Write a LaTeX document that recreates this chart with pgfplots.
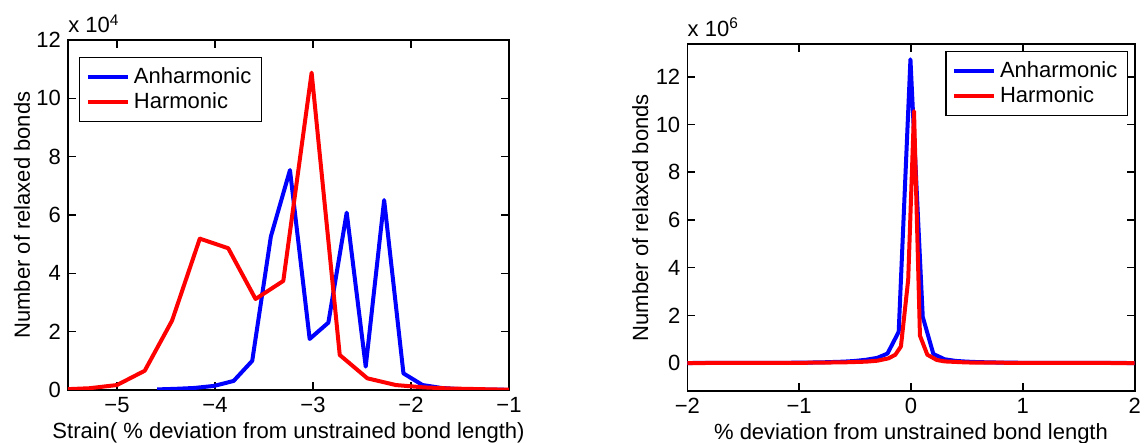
\documentclass[border=0pt]{standalone}
\usepackage{fontspec}
\setmainfont{Liberation Sans}
\usepackage{pgfplots}
\pgfplotsset{compat=1.18}
\definecolor{mblue}{RGB}{0,0,255}
\definecolor{mred}{RGB}{255,0,0}

\pgfplotsset{
  mstyle/.style={
    scale only axis,
    axis line style={line width=0.8pt},
    tick align=inside, major tick length=4pt,
    tick style={line width=0.8pt, black},
    minor tick num=0,
    scaled ticks=false,
    /pgf/number format/assume math mode=true,
    legend cell align=left,
    legend style={draw=black, line width=0.6pt, inner sep=3pt,
                  row sep=-1pt, nodes={inner sep=2pt}},
    legend image code/.code={\draw[#1] (0pt,0pt) -- (20pt,0pt);},
    ylabel style={at={(axis description cs:-0.104,0.5)}, anchor=center},
    xlabel style={at={(axis description cs:0.5,-0.123)}, anchor=center},
  },
  blueline/.style={mblue, line width=2pt, line join=round},
  redline/.style={mred, line width=2pt, line join=round},
}

\begin{document}
\begin{tikzpicture}[font=\fontsize{11}{13}\selectfont]
\path[use as bounding box] (-34pt,-26.5pt) rectangle (539pt,195pt);

% left panel: strained
\begin{axis}[mstyle, name=left,
  at={(0pt,0pt)}, anchor=south west,
  width=220.5pt, height=175pt,
  xmin=-5.5, xmax=-1, ymin=0, ymax=12,
  xtick={-5,-4,-3,-2,-1}, xticklabels={−5,−4,−3,−2,−1},
  ytick={0,2,4,6,8,10,12},
  xlabel={Strain( \% deviation from unstrained bond length)},
  ylabel={Number of relaxed bonds},
  legend style={at={(0.0256,0.9506)}, anchor=north west},
]
  \addplot[blueline] coordinates {
    (-4.59,0.02)(-4.40,0.04)(-4.21,0.07)(-4.01,0.14)(-3.81,0.31)
    (-3.62,1.00)(-3.43,5.26)(-3.235,7.54)(-3.034,1.75)(-2.843,2.31)
    (-2.656,6.08)(-2.462,0.80)(-2.274,6.51)(-2.077,0.57)(-1.882,0.17)
    (-1.69,0.07)(-1.50,0.03)(-1.30,0.015)(-1.11,0.01)(-0.92,0.005)};
  \addlegendentry{Anharmonic}
  \addplot[redline] coordinates {
    (-5.566,0.02)(-5.283,0.06)(-5.0,0.17)(-4.717,0.66)(-4.438,2.38)
    (-4.155,5.19)(-3.865,4.86)(-3.586,3.12)(-3.303,3.74)(-3.014,10.88)
    (-2.727,1.20)(-2.445,0.40)(-2.155,0.17)(-1.872,0.09)(-1.589,0.05)
    (-1.306,0.03)(-1.023,0.01)(-0.74,0.005)};
  \addlegendentry{Harmonic}
\end{axis}
\node[anchor=base west, inner sep=0pt] at ([yshift=3.5pt]left.north west) {x 10\textsuperscript{4}};

% right panel: relaxed
\begin{axis}[mstyle, name=right,
  at={(309.65pt,-0.5pt)}, anchor=south west,
  width=223.7pt, height=173.35pt,
  xmin=-2, xmax=2, ymin=-1.17, ymax=13.36,
  xtick={-2,-1,0,1,2}, xticklabels={−2,−1,0,1,2},
  ytick={0,2,4,6,8,10,12},
  xlabel={\% deviation from unstrained bond length},
  ylabel={Number of relaxed bonds},
  ylabel style={at={(axis description cs:-0.105,0.5)}},
  legend style={at={(0.985,0.981)}, anchor=north east},
]
  \addplot[blueline] coordinates {
    (-2,0.003)(-1.5,0.006)(-1.0,0.015)(-0.8,0.03)(-0.6,0.06)(-0.5,0.09)
    (-0.4,0.14)(-0.3,0.22)(-0.21,0.40)(-0.11,1.31)(-0.005,12.73)
    (0.105,1.94)(0.2,0.38)(0.3,0.16)(0.4,0.09)(0.5,0.06)(0.6,0.04)
    (0.8,0.02)(1.0,0.012)(1.5,0.005)(2,0.003)};
  \addlegendentry{Anharmonic}
  \addplot[redline] coordinates {
    (-2,0.002)(-1.0,0.01)(-0.6,0.03)(-0.4,0.06)(-0.3,0.1)(-0.2,0.2)
    (-0.14,0.35)(-0.09,0.7)(-0.025,3.5)(0.027,10.56)(0.08,1.15)
    (0.146,0.35)(0.23,0.13)(0.3,0.07)(0.5,0.025)(1.0,0.008)(2,0.002)};
  \addlegendentry{Harmonic}
\end{axis}
\node[anchor=base west, inner sep=0pt] at ([yshift=3.8pt]right.north west) {x 10\textsuperscript{6}};
\end{tikzpicture}
\end{document}
